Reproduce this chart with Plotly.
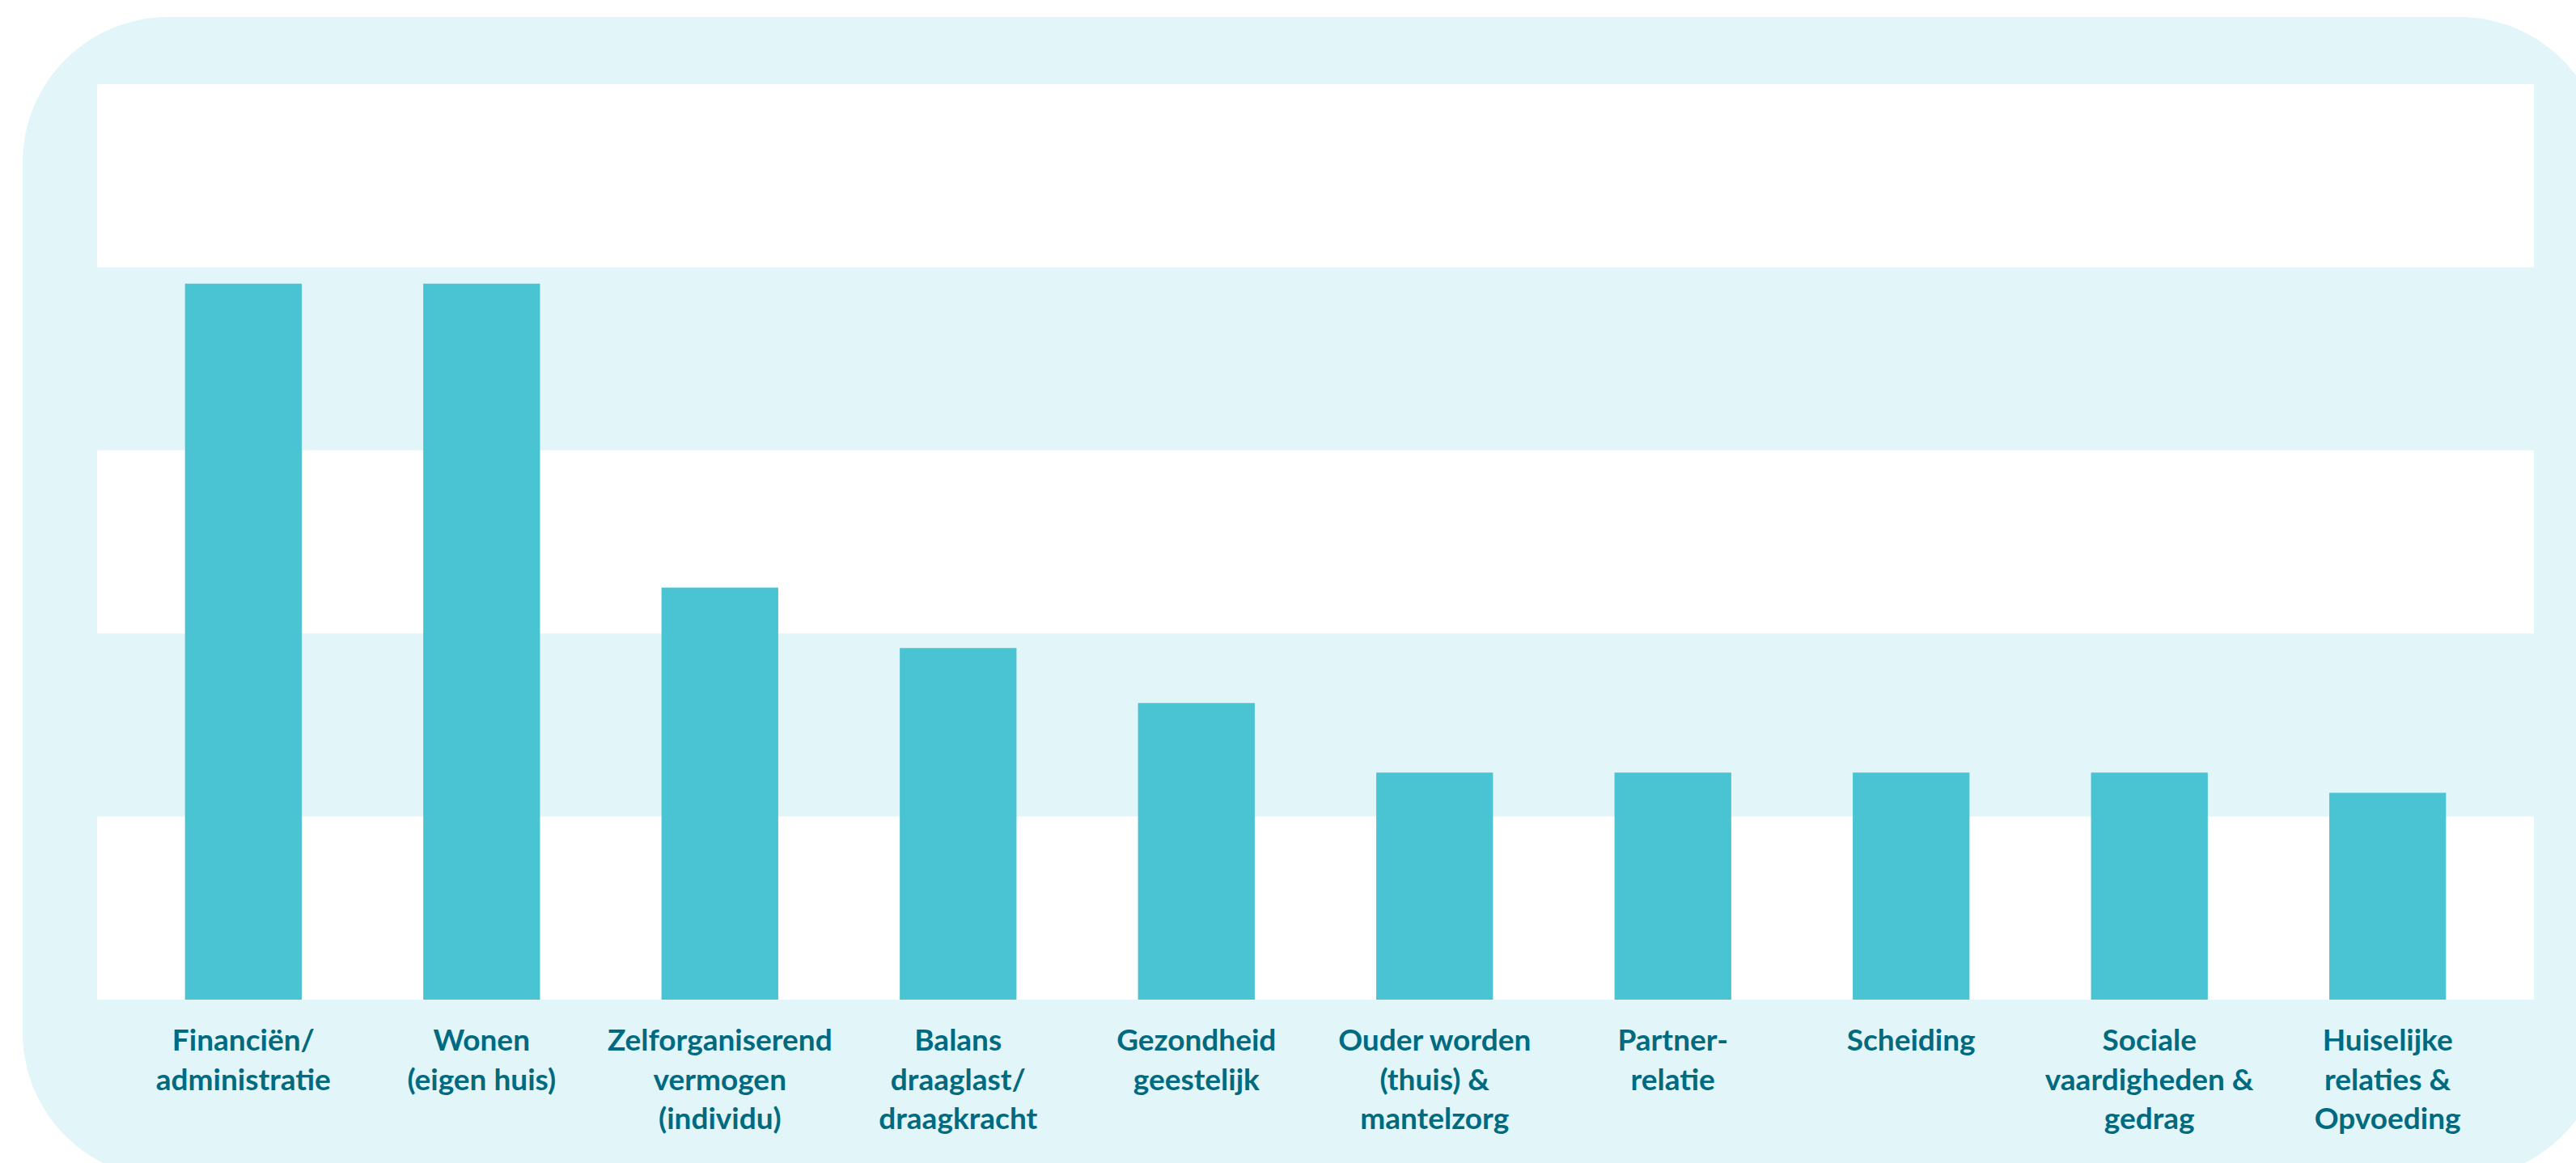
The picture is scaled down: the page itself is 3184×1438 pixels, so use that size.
import plotly.graph_objects as go

# ---- data ----
categories = [
    "Financiën/administratie", "Wonen (eigen huis)", "Zelforganiserend vermogen (individu)",
    "Balans draaglast/draagkracht", "Gezondheid geestelijk", "Ouder worden (thuis) & mantelzorg",
    "Partner-relatie", "Scheiding", "Sociale vaardigheden & gedrag", "Huiselijke relaties & Opvoeding",
]
tick_labels = [
    "Financiën/<br>administratie", "Wonen<br>(eigen huis)", "Zelforganiserend<br>vermogen<br>(individu)",
    "Balans<br>draaglast/<br>draagkracht", "Gezondheid<br>geestelijk", "Ouder worden<br>(thuis) &<br>mantelzorg",
    "Partner-<br>relatie", "Scheiding", "Sociale<br>vaardigheden &<br>gedrag", "Huiselijke<br>relaties &<br>Opvoeding",
]
values = [39.1, 39.1, 22.5, 19.2, 16.2, 12.4, 12.4, 12.4, 12.4, 11.3]
y_ticks = [0, 10, 20, 30, 40, 50]

# ---- style ----
W, H = 3184, 1438
ML, MR, MT, MB = 120, 52, 104, 202
BAR = "#4AC4D3"
BAND = "#E2F5F9"
TEXT = "#006B80"

fig = go.Figure(go.Bar(x=categories, y=values, marker=dict(color=BAR, line=dict(width=0)),
                       width=0.49, hoverinfo="x+y"))

pw, ph = W - ML - MR, H - MT - MB

def px_to_paper(px, py):
    return (px - ML) / pw, (H - MB - py) / ph

# rounded frame (pixel geometry -> paper coords)
fx0, fy0, fx1, fy1, r = 28, 21, 3220, 1457, 180
k = 0.5523 * r
def P(x, y):
    a, b = px_to_paper(x, y)
    return f"{a:.6f},{b:.6f}"
path = (
    f"M {P(fx0 + r, fy0)} L {P(fx1 - r, fy0)} "
    f"C {P(fx1 - r + k, fy0)} {P(fx1, fy0 + r - k)} {P(fx1, fy0 + r)} "
    f"L {P(fx1, fy1 - r)} "
    f"C {P(fx1, fy1 - r + k)} {P(fx1 - r + k, fy1)} {P(fx1 - r, fy1)} "
    f"L {P(fx0 + r, fy1)} "
    f"C {P(fx0 + r - k, fy1)} {P(fx0, fy1 - r + k)} {P(fx0, fy1 - r)} "
    f"L {P(fx0, fy0 + r)} "
    f"C {P(fx0, fy0 + r - k)} {P(fx0 + r - k, fy0)} {P(fx0 + r, fy0)} Z"
)
shapes = [
    dict(type="path", path=path, xref="paper", yref="paper", fillcolor=BAND,
         line=dict(width=0), layer="below"),
    dict(type="rect", xref="paper", yref="paper", x0=0, x1=1, y0=0, y1=1,
         fillcolor="white", line=dict(width=0), layer="below"),
]
for i in range(len(y_ticks) - 1):
    if i % 2 == 1:
        shapes.append(dict(type="rect", xref="x domain", yref="y", x0=0, x1=1,
                           y0=y_ticks[i], y1=y_ticks[i + 1], fillcolor=BAND,
                           line=dict(width=0), layer="below"))

fig.update_layout(
    width=W, height=H,
    margin=dict(l=ML, r=MR, t=MT, b=MB, pad=0),
    paper_bgcolor="white", plot_bgcolor="rgba(0,0,0,0)",
    showlegend=False, shapes=shapes, bargap=0.5,
    font=dict(family="Lato", color=TEXT),
)
fig.update_xaxes(
    type="category", range=[-0.614, len(categories) - 1 + 0.614],
    tickmode="array", tickvals=categories, ticktext=tick_labels,
    tickfont=dict(family="Lato", size=37, color=TEXT, weight="bold"),
    ticks="outside", ticklen=18, tickcolor="rgba(0,0,0,0)",
    showgrid=False, zeroline=False, showline=False,
)
fig.update_yaxes(
    range=[y_ticks[0], y_ticks[-1]], tickvals=y_ticks, showticklabels=False,
    showgrid=False, zeroline=False, showline=False, ticks="",
)

fig.write_html(
    "out.html",
    config={"displayModeBar": False},
    post_script="document.body.style.margin='0';document.body.style.overflow='hidden';",
)
